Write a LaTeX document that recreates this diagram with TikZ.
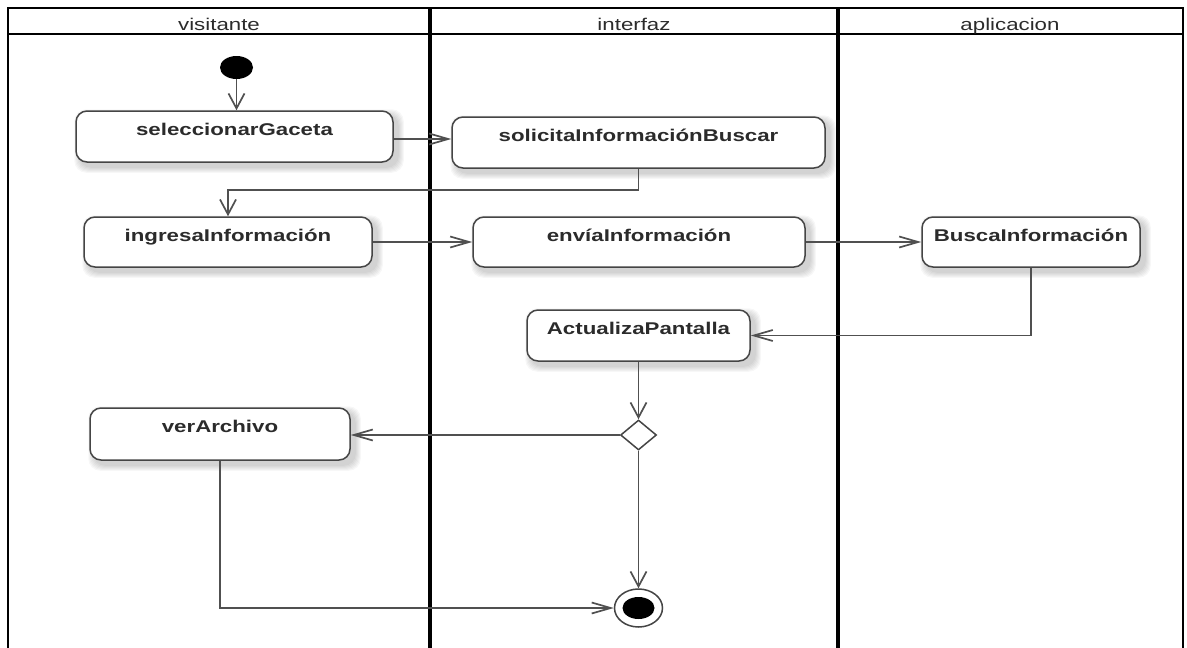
\documentclass[tikz,border=0pt]{standalone}
\usepackage{fontspec}
\setmainfont{Liberation Sans}
\newfontfamily\uifont[FakeStretch=1.31]{Liberation Sans}
\usetikzlibrary{arrows.meta,shapes.geometric,backgrounds,calc}

\definecolor{boxline}{HTML}{454545}
\definecolor{lineclr}{HTML}{505050}
\definecolor{labeltext}{HTML}{2B2B2B}

\tikzset{
  actbox/.style={draw=boxline, line width=1.5pt, fill=white, rounded corners=11pt,
    inner xsep=0pt, inner ysep=0pt, text height=24pt, text depth=27pt,
    font=\uifont\fontsize{17}{20}\selectfont\bfseries, text=labeltext},
  lanehead/.style={font=\uifont\fontsize{17}{20}\selectfont, text=labeltext, inner sep=0pt, anchor=base},
  flow/.style={draw=lineclr, line width=1.7pt},
  harr/.style={-{Straight Barb[length=19pt,width=11pt]}},
  varr/.style={-{Straight Barb[length=15pt,width=16pt]}},
  lanebar/.style={line width=4pt, black},
}

\begin{document}
\begin{tikzpicture}[x=1pt,y=-1pt]
  \useasboundingbox (0,0) rectangle (1187,648);

  % swimlane frame and headers
  \draw[line width=2pt] (8,648) -- (8,8) -- (1183,8) -- (1183,648);
  \draw[line width=1.8pt] (8,34) -- (1183,34);
  \draw[lanebar] (430,8) -- (430,648);
  \draw[lanebar] (838,8) -- (838,648);
  \node[lanehead] (h1) at (219,30.5) {visitante};
  \node[lanehead] (h2) at (634,30.5) {interfaz};
  \node[lanehead] (h3) at (1010,30.5) {aplicacion};

  % start node
  \node[ellipse, fill=black, minimum width=33pt, minimum height=23pt, inner sep=0pt] (ini) at (236.5,67.5) {};

  % actions
  \node[actbox, minimum width=317pt] (sel) at (234.5,136.5) {seleccionarGaceta};
  \node[actbox, minimum width=373pt] (sol) at (638.5,142.5) {solicitaInformaciónBuscar};
  \node[actbox, minimum width=288pt, text depth=26pt] (ing) at (228,242) {ingresaInformación};
  \node[actbox, minimum width=332pt, text depth=26pt] (env) at (639,242) {envíaInformación};
  \node[actbox, minimum width=218pt, text depth=26pt] (bus) at (1031,242) {BuscaInformación};
  \node[actbox, minimum width=223pt] (act) at (638.5,335.5) {ActualizaPantalla};
  \node[actbox, minimum width=260pt, text depth=28pt] (ver) at (220,434) {verArchivo};

  % decision and end
  \node[diamond, draw=boxline, line width=1.5pt, fill=white, aspect=1.2,
        minimum width=36pt, minimum height=30pt, inner sep=0pt] (dec) at (638.5,435) {};
  \node[ellipse, draw=boxline, line width=1.5pt, fill=white,
        minimum width=48pt, minimum height=38pt, inner sep=0pt,
        path picture={\fill[black] (path picture bounding box.center) ellipse [x radius=16pt, y radius=11pt];}]
        (fin) at (638.5,608) {};

  % soft shadows under the action boxes
  \begin{scope}[on background layer]
    \foreach \n in {sel,sol,ing,env,bus,act,ver}{
      \foreach \k in {1,...,6}{
        \fill[black, opacity=0.03, rounded corners=12pt]
          ($(\n.north west)+(5-\k,5-\k)$) rectangle ($(\n.south east)+(4+\k,4+\k)$);
      }
    }
  \end{scope}

  % control flow
  \draw[flow,varr] (ini.south) -- (ini.south |- sel.north);
  \coordinate (s1) at ($(sel.east)+(0,2.5)$);
  \draw[flow,harr] (s1) -- (s1 -| sol.west);
  \draw[flow,varr] (sol.south) -- ++(0,21) -| (ing.north);
  \draw[flow,harr] (ing.east) -- (ing.east -| env.west);
  \draw[flow,harr] (env.east) -- (env.east -| bus.west);
  \draw[flow,harr] (bus.south) |- (act.east);
  \draw[flow,varr] (act.south) -- (dec.north);
  \draw[flow,harr] (dec.west) -- (dec.west -| ver.east);
  \draw[flow,varr] (dec.south) -- (fin.north);
  \draw[flow,harr] (ver.south) |- (fin.west);
\end{tikzpicture}
\end{document}
